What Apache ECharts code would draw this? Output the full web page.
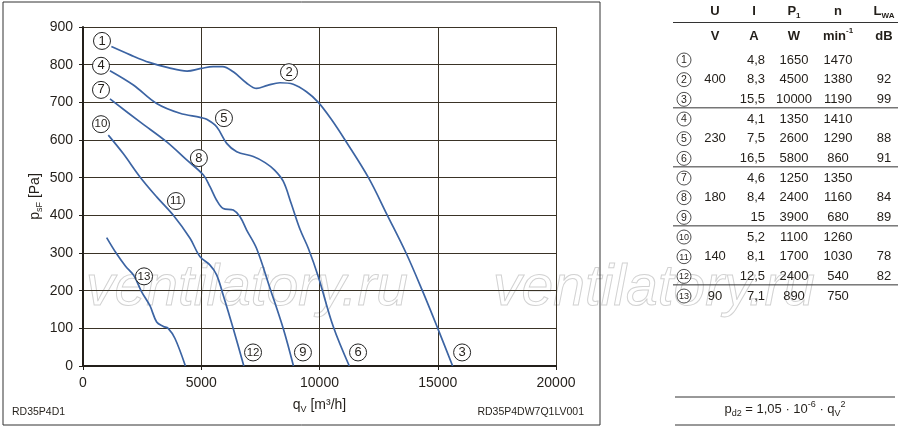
<!DOCTYPE html>
<html>
<head>
<meta charset="utf-8">
<script src="https://cdn.jsdelivr.net/npm/echarts@6/dist/echarts.min.js"></script>
<style>
html, body { margin: 0; padding: 0; background: #fff; }
#chart { width: 900px; height: 429px; }
</style>
</head>
<body>
<div id="chart"></div>
<script>
// Kennlinien: q_V [m3/h], p_sF [Pa]
var curve1 = [[1200, 848], [2000, 826], [2800, 806], [3600, 792], [4400, 783], [4990, 790], [5500, 795], [5900, 795],
  [6355, 781], [6900, 752], [7340, 737], [7800, 745], [8330, 752], [8890, 748], [9450, 728], [9950, 700],
  [10500, 655], [11080, 600], [12070, 500], [12870, 400], [13660, 300], [14350, 200], [15000, 100], [15630, 0]];
var curve2 = [[1140, 784], [2130, 746], [3115, 697], [4100, 671], [4950, 660], [5230, 655], [5650, 635], [6075, 591],
  [6500, 569], [7200, 556], [7700, 540], [8100, 520], [8470, 490], [8800, 432], [9175, 363], [9530, 312],
  [9950, 237], [10585, 104], [11260, 0]];
var curve3 = [[1140, 709], [2410, 648], [3540, 595], [4385, 547], [5090, 507], [5370, 476], [5650, 440], [5930, 418],
  [6355, 414], [6640, 396], [6920, 361], [7340, 312], [7910, 206], [8470, 99], [8900, 0]];
var curve4 = [[1070, 613], [1700, 564], [2410, 502], [3115, 449], [3820, 400], [4525, 339], [4950, 290], [5370, 268],
  [5650, 242], [5930, 188], [6355, 99], [6800, 0]];
var curve5 = [[1000, 341], [1400, 300], [1800, 265], [2150, 240], [2480, 197], [2830, 160], [3115, 117], [3400, 105],
  [3600, 100], [3890, 73], [4330, 0]];

// Kurvennummern (q, p, Nr.)
var curveTags = [[803, 863, '1'], [8710, 780, '2'], [16030, 36, '3'], [761, 797, '4'], [5960, 658, '5'],
  [11630, 36, '6'], [761, 733, '7'], [4900, 552, '8'], [9300, 36, '9'], [761, 642, '10'], [3930, 438, '11'],
  [7190, 36, '12'], [2580, 238, '13']];

var xTicks = [0, 5000, 10000, 15000, 20000];
var yTicks = [0, 100, 200, 300, 400, 500, 600, 700, 800, 900];

// Tabelle
var tagIds = ['1', '2', '3', '4', '5', '6', '7', '8', '9', '10', '11', '12', '13'];
var voltage = ['', '400', '', '', '230', '', '', '180', '', '', '140', '', '90'];
var current = ['4,8', '8,3', '15,5', '4,1', '7,5', '16,5', '4,6', '8,4', '15', '5,2', '8,1', '12,5', '7,1'];
var power = ['1650', '4500', '10000', '1350', '2600', '5800', '1250', '2400', '3900', '1100', '1700', '2400', '890'];
var speed = ['1470', '1380', '1190', '1410', '1290', '860', '1350', '1160', '680', '1260', '1030', '540', '750'];
var noise = ['', '92', '99', '', '88', '91', '', '84', '89', '', '78', '82', ''];
var groupEnds = [2, 5, 8, 11];

var FONT = 'Liberation Sans, Arial, sans-serif';
var INK = '#231f1a';
var GRIDC = '#3a3326';
var BLUE = '#3c64a3';

var chart = echarts.init(document.getElementById('chart'));

function txt(x, y, text, opt) {
  opt = opt || {};
  return {
    type: 'text', z: 10,
    style: {
      text: text, x: x, y: y, fill: INK,
      fontSize: opt.size || 13, fontFamily: FONT,
      fontWeight: opt.bold ? 'bold' : 'normal',
      align: opt.align || 'center', verticalAlign: 'middle',
      rich: opt.rich
    }
  };
}
function hline(x1, x2, y, w) {
  return {
    type: 'line', z: 10,
    shape: { x1: x1, y1: y, x2: x2, y2: y },
    style: { stroke: '#333', lineWidth: w || 1 }
  };
}

var colU = 715, colI = 765, colIh = 754, colP = 794, colN = 838, colL = 884, colTag = 684;
function rowY(i) { return 60 + i * 19.67; }

var g = [];
// Rahmen
g.push({ type: 'rect', z: 10, shape: { x: 3, y: 2, width: 597, height: 423 },
  style: { fill: 'none', stroke: '#333', lineWidth: 1 } });
// Wasserzeichen
['ventilatory.ru', 'ventilatory.ru'].forEach(function (w, k) {
  g.push({ type: 'text', z: 0, style: { text: w, x: k ? 493 : 86, y: 289, fill: 'rgba(0,0,0,0)',
    stroke: '#d2d2d2', lineWidth: 1, fontSize: 57, fontStyle: 'italic', fontFamily: FONT,
    align: 'left', verticalAlign: 'middle' } });
});

g.push(txt(12, 412, 'RD35P4D1', { size: 10.5, align: 'left' }));
g.push(txt(584, 412, 'RD35P4DW7Q1LV001', { size: 10.5, align: 'right' }));

var subRich = {
  m: { fontSize: 13, fontWeight: 'bold', fontFamily: FONT, fill: INK, lineHeight: 18 },
  s: { fontSize: 8, fontWeight: 'bold', fontFamily: FONT, fill: INK, lineHeight: 8, verticalAlign: 'bottom' },
  u: { fontSize: 8, fontWeight: 'bold', fontFamily: FONT, fill: INK, lineHeight: 8, verticalAlign: 'top' }
};
// Kopfzeilen
g.push(txt(colU, 11, 'U', { bold: true }));
g.push(txt(colIh, 11, 'I', { bold: true }));
g.push(txt(colP, 11, '{m|P}{s|1}', { rich: subRich }));
g.push(txt(colN, 11, 'n', { bold: true }));
g.push(txt(colL, 11, '{m|L}{s|WA}', { rich: subRich }));
g.push(hline(673, 898, 22.5));
g.push(txt(colU, 36, 'V', { bold: true }));
g.push(txt(colIh, 36, 'A', { bold: true }));
g.push(txt(colP, 36, 'W', { bold: true }));
g.push(txt(colN, 36, '{m|min}{u|-1}', { rich: subRich }));
g.push(txt(colL, 36, 'dB', { bold: true }));

tagIds.forEach(function (id, i) {
  var y = rowY(i);
  g.push({ type: 'circle', z: 10, shape: { cx: colTag, cy: y, r: 7 },
    style: { fill: '#fff', stroke: '#222', lineWidth: 0.8 } });
  g.push(txt(colTag, y + 0.5, id, { size: id.length > 1 ? 9 : 10.5 }));
  if (voltage[i]) g.push(txt(colU, y, voltage[i]));
  g.push(txt(colI, y, current[i], { align: 'right' }));
  g.push(txt(colP, y, power[i]));
  g.push(txt(colN, y, speed[i]));
  if (noise[i]) g.push(txt(colL, y, noise[i]));
});
groupEnds.forEach(function (i) {
  g.push(hline(673, 898, rowY(i) + 8.5));
});

// Formel
g.push(hline(675, 895, 397));
g.push(hline(675, 895, 425));
g.push(txt(785, 409, '{m|p}{s|d2}{m| = 1,05 · 10}{u|-6}{m| · q}{s|V}{u|2}', {
  rich: {
    m: { fontSize: 13, fontFamily: FONT, fill: INK, lineHeight: 18 },
    s: { fontSize: 9, fontFamily: FONT, fill: INK, lineHeight: 9, verticalAlign: 'bottom' },
    u: { fontSize: 9, fontFamily: FONT, fill: INK, lineHeight: 9, verticalAlign: 'top' }
  }
}));

var curves = [curve1, curve2, curve3, curve4, curve5];
var series = curves.map(function (c) {
  return {
    type: 'line', data: c, smooth: 0.35, symbol: 'none', z: 3,
    lineStyle: { color: BLUE, width: 1.7 }
  };
});
series.push({
  type: 'scatter', z: 5, symbol: 'circle', symbolSize: 17,
  itemStyle: { color: '#fff', borderColor: '#222', borderWidth: 1, opacity: 1 },
  data: curveTags.map(function (t) {
    return { value: t, label: { fontSize: t[2].length > 1 ? 11.5 : 13 } };
  }),
  label: {
    show: true, position: 'inside', color: INK, fontFamily: FONT,
    formatter: function (p) { return p.value[2]; }
  }
});

chart.setOption({
  animation: false,
  textStyle: { fontFamily: FONT },
  grid: { left: 83, right: 344, top: 27, bottom: 63 },
  xAxis: {
    type: 'value', min: xTicks[0], max: xTicks[xTicks.length - 1], interval: xTicks[1] - xTicks[0],
    name: '{a|q}{b|V}{a| [m³/h]}', nameLocation: 'middle', nameGap: 30, nameMoveOverlap: false,
    nameTextStyle: { rich: {
      a: { fontSize: 14, color: INK, fontFamily: FONT, lineHeight: 18 },
      b: { fontSize: 9, color: INK, fontFamily: FONT, lineHeight: 9, verticalAlign: 'bottom' }
    } },
    axisLine: { lineStyle: { color: INK, width: 2 } },
    axisTick: { show: true, length: 4, lineStyle: { color: INK } },
    axisLabel: { fontSize: 14, color: INK, margin: 10, formatter: function (v) { return String(v); } },
    splitLine: { show: true, lineStyle: { color: GRIDC, width: 1 } }
  },
  yAxis: {
    type: 'value', min: yTicks[0], max: yTicks[yTicks.length - 1], interval: yTicks[1] - yTicks[0],
    name: '{a|p}{b|sF}{a| [Pa]}', nameLocation: 'middle', nameGap: 39, nameRotate: 90, nameMoveOverlap: false,
    nameTextStyle: { rich: {
      a: { fontSize: 14, color: INK, fontFamily: FONT, lineHeight: 18 },
      b: { fontSize: 9, color: INK, fontFamily: FONT, lineHeight: 9, verticalAlign: 'bottom' }
    } },
    axisLine: { show: true, lineStyle: { color: INK, width: 2 } },
    axisTick: { show: true, length: 4, lineStyle: { color: INK } },
    axisLabel: { fontSize: 14, color: INK, margin: 10, formatter: function (v) { return String(v); } },
    splitLine: { show: true, lineStyle: { color: GRIDC, width: 1 } }
  },
  graphic: g,
  series: series
});
</script>
</body>
</html>
